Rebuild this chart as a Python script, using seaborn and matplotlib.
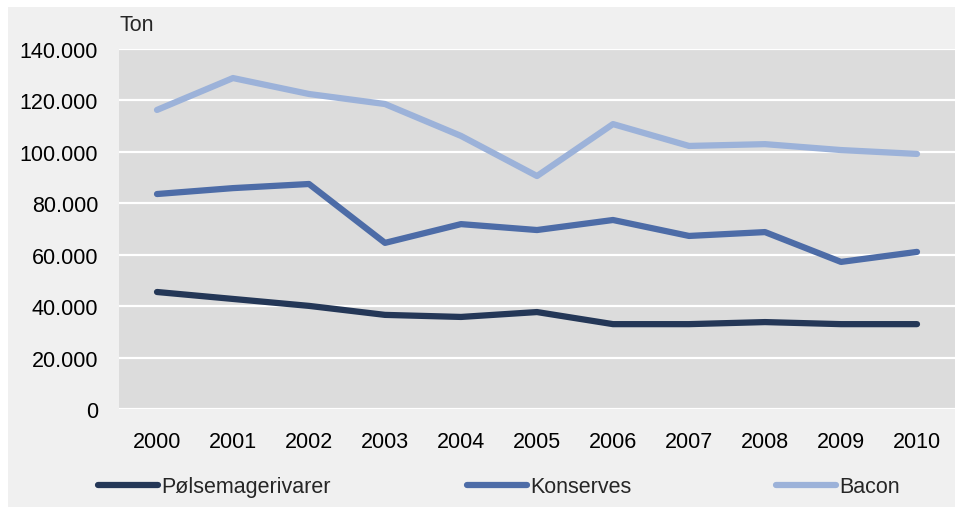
import matplotlib
matplotlib.use("Agg")
import matplotlib.pyplot as plt
import matplotlib.ticker as mticker
from matplotlib.lines import Line2D
import seaborn as sns
import pandas as pd

years = [2000, 2001, 2002, 2003, 2004, 2005, 2006, 2007, 2008, 2009, 2010]
polse = [45500, 42800, 40100, 36600, 35800, 37700, 33000, 33000, 33800, 33000, 33000]
konserves = [83600, 85900, 87500, 64600, 71900, 69600, 73500, 67300, 68800, 57200, 61100]
bacon = [116300, 128700, 122500, 118600, 106200, 90600, 110800, 102300, 103000, 100700, 99200]
series_names = ["Pølsemagerivarer", "Konserves", "Bacon"]
colors = ["#243757", "#4d6ca7", "#9cb2d9"]

df = pd.DataFrame({
    "year": [str(y) for y in years] * 3,
    "value": polse + konserves + bacon,
    "serie": [series_names[0]] * len(years) + [series_names[1]] * len(years) + [series_names[2]] * len(years),
})

sns.set_theme(style="white")
plt.rcParams["font.family"] = ["Liberation Sans", "DejaVu Sans"]
FS = 15.5

fig = plt.figure(figsize=(9.59, 5.10), dpi=100, facecolor="white")
fig.patches.append(plt.Rectangle((8/959, 2/510), 947/959, 500/510, transform=fig.transFigure,
                                 facecolor="#f0f0f0", edgecolor="none", zorder=-10))
ax = fig.add_axes([119/959, 1 - 410/510, (955-119)/959, 360/510])
ax.set_facecolor("#dcdcdc")

sns.lineplot(data=df, x="year", y="value", hue="serie", palette=colors, linewidth=4.5,
             ax=ax, legend=False, sort=False, solid_capstyle="round")

ax.set_xlim(-0.5, 10.5)
ax.set_ylim(0, 140000)
ax.set_yticks(range(0, 140001, 20000))
ax.yaxis.set_major_formatter(mticker.FuncFormatter(lambda v, p: f"{int(v):,}".replace(",", ".")))
ax.grid(axis="y", color="white", linewidth=1.6)
ax.set_axisbelow(True)
for s in ax.spines.values():
    s.set_visible(False)
ax.tick_params(axis="both", length=0, labelsize=FS, colors="black")
ax.tick_params(axis="y", pad=15)
ax.tick_params(axis="x", pad=16)
ax.set_xlabel("")
ax.set_ylabel("")
ax.text(0.0, 1.0 + 14/360, "Ton", transform=ax.transAxes, fontsize=FS, ha="left", va="bottom")

starts = [98, 467, 776]
for name, c, x0 in zip(series_names, colors, starts):
    h = Line2D([0], [0], color=c, linewidth=4.5, solid_capstyle="round")
    fig.legend([h], [name], loc="center left", frameon=False, fontsize=FS,
               bbox_to_anchor=(x0/959, 1 - 488/510), borderpad=0, borderaxespad=0,
               handlelength=2.8, handletextpad=0.15)

fig.savefig("out.png", dpi=100, facecolor=fig.get_facecolor())
